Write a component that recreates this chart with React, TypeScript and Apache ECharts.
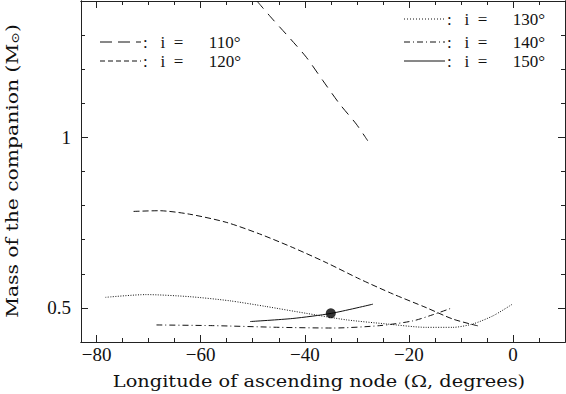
import React, { useEffect, useRef } from "react";
import * as echarts from "echarts";

const i110X = [-49.2, -46.2, -43.0, -39.7, -36.5, -33.3, -30.1, -27.9];
const i110Y = [1.4, 1.347, 1.293, 1.235, 1.166, 1.098, 1.039, 0.99];

const i120X = [-72.9, -68.0, -62.2, -55.1, -48.7, -42.3, -35.9, -29.5, -23.1, -16.7, -11.5, -6.4];
const i120Y = [0.783, 0.785, 0.775, 0.751, 0.717, 0.677, 0.633, 0.585, 0.541, 0.501, 0.467, 0.446];

const i130X = [-78.3, -70.5, -62.2, -54.5, -47.4, -39.7, -32.0, -24.3, -16.7, -11.5, -7.7, -3.8, -0.1];
const i130Y = [0.531, 0.539, 0.533, 0.521, 0.504, 0.484, 0.465, 0.453, 0.443, 0.443, 0.453, 0.477, 0.511];

const i140X = [-68.5, -57.7, -44.9, -34.6, -25.6, -19.2, -15.4, -11.7];
const i140Y = [0.45, 0.448, 0.443, 0.441, 0.448, 0.462, 0.48, 0.5];

const i150X = [-50.5, -42.3, -34.9, -26.9];
const i150Y = [0.46, 0.469, 0.484, 0.511];

const dotX = [-35];
const dotY = [0.484];

const xMajorTicks = [-80, -60, -40, -20, 0];
const xMinorTicks = [-80, -75, -70, -65, -60, -55, -50, -45, -40, -35, -30, -25, -20, -15, -10, -5, 0, 5, 10];
const yMajorTicks = [0.5, 1];

const inclinations = ["110°", "120°", "130°", "140°", "150°"];
const xTitle = "Longitude of ascending node (\u03A9, degrees)";
const yTitle = "Mass of the companion (M{s|\u2299})";

const FONT = "DejaVu Serif";
const TICKFONT = "Liberation Serif";
const INK = "#111";

const zip = (xs: number[], ys: number[]) => xs.map((x, i) => [x, ys[i]]);
const fmt = (v: number) => String(v).replace("-", "\u2212");

export default function App() {
  const ref = useRef<HTMLDivElement>(null);
  useEffect(() => {
    document.body.style.margin = "0";
    const chart = echarts.init(ref.current!, null, { renderer: "svg" });
    const axisLine = { show: true, onZero: false, lineStyle: { color: "#222", width: 1 } };
    const mkX = (pos: "bottom" | "top", major: boolean, label: boolean) => ({
      type: "value",
      position: pos,
      min: -83,
      max: 10,
      axisLine,
      splitLine: { show: false },
      axisTick: {
        show: true,
        inside: true,
        length: major ? 7 : 4,
        customValues: major ? xMajorTicks : xMinorTicks,
        lineStyle: { color: "#222" },
      },
      axisLabel: label
        ? {
            show: true,
            customValues: xMajorTicks,
            formatter: (v: number) => fmt(v),
            fontFamily: TICKFONT,
            fontSize: 19,
            color: INK,
            margin: 3,
          }
        : { show: false },
    });
    const mkY = (pos: "left" | "right", major: boolean, label: boolean) => ({
      type: "value",
      position: pos,
      min: 0.4,
      max: 1.4,
      interval: 0.1,
      axisLine,
      splitLine: { show: false },
      axisTick: major
        ? { show: true, inside: true, length: 7, customValues: yMajorTicks, lineStyle: { color: "#222" } }
        : { show: true, inside: true, length: 4, lineStyle: { color: "#222" } },
      axisLabel: label
        ? {
            show: true,
            customValues: yMajorTicks,
            formatter: (v: number) => fmt(v),
            fontFamily: TICKFONT,
            fontSize: 19,
            color: INK,
            margin: 10,
          }
        : { show: false },
    });
    const line = (name: string, xs: number[], ys: number[], dash: any) => ({
      name,
      type: "line",
      data: zip(xs, ys),
      showSymbol: false,
      smooth: 0.25,
      clip: true,
      lineStyle: { color: INK, width: 1, type: dash },
      z: 3,
    });
    const legendRows = [
      { x: 100, y: 42, dash: [12, 6] },
      { x: 100, y: 61, dash: [5, 3] },
      { x: 404, y: 19, dash: [1, 2] },
      { x: 404, y: 42, dash: [6, 3, 1, 3] },
      { x: 404, y: 61, dash: null },
    ];
    const graphic: any[] = [];
    legendRows.forEach((r, k) => {
      graphic.push({
        type: "line",
        shape: { x1: r.x, y1: r.y, x2: r.x + 41, y2: r.y },
        style: { stroke: INK, lineWidth: 1, lineDash: r.dash || undefined },
      });
      graphic.push({
        type: "text",
        x: r.x + 43,
        y: r.y,
        style: {
          text: ":   i  =      " + inclinations[k],
          font: `17px "${TICKFONT}"`,
          fill: INK,
          verticalAlign: "middle",
        },
      });
    });
    graphic.push({
      type: "text",
      x: 319,
      y: 382,
      scaleX: 1.21,
      style: { text: xTitle, font: `16px "${FONT}"`, fill: INK, align: "center", verticalAlign: "middle" },
    });
    graphic.push({
      type: "text",
      x: 12,
      y: 171,
      rotation: Math.PI / 2,
      scaleX: 1.27,
      style: {
        text: yTitle,
        font: `16px "${FONT}"`,
        fill: INK,
        align: "center",
        verticalAlign: "middle",
        rich: { s: { fontFamily: FONT, fontSize: 11, fill: INK, verticalAlign: "bottom", padding: [7, 0, 0, 0] } },
      },
    });
    chart.setOption({
      animation: false,
      backgroundColor: "#fff",
      grid: { left: 81, right: 1, top: 1, bottom: 52, containLabel: false },
      xAxis: [mkX("bottom", false, false), mkX("bottom", true, true), mkX("top", false, false), mkX("top", true, false)],
      yAxis: [mkY("left", false, false), mkY("left", true, true), mkY("right", false, false), mkY("right", true, false)],
      series: [
        line("i = 110°", i110X, i110Y, [10, 7]),
        line("i = 120°", i120X, i120Y, [6, 3]),
        line("i = 130°", i130X, i130Y, [1, 1.5]),
        line("i = 140°", i140X, i140Y, [6, 3, 1, 3]),
        line("i = 150°", i150X, i150Y, "solid"),
        {
          name: "dot",
          type: "scatter",
          data: zip(dotX, dotY),
          symbol: "circle",
          symbolSize: 10,
          itemStyle: { color: "#000" },
          z: 5,
        },
      ],
      graphic,
    });
    return () => chart.dispose();
  }, []);
  return <div ref={ref} style={{ width: 566, height: 394 }} />;
}
